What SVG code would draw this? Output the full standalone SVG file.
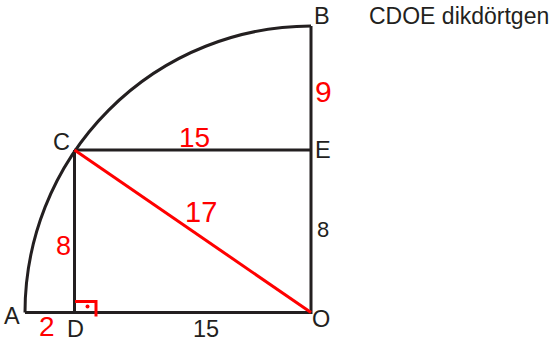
<svg xmlns="http://www.w3.org/2000/svg" width="556" height="343" viewBox="0 0 556 343">
<style>
.blk{fill:none;stroke:#231f20;stroke-width:3;stroke-linecap:butt;stroke-linejoin:miter}
.red{fill:none;stroke:#ff0000;stroke-width:3}
.lbl{font-family:"Liberation Sans",Arial,sans-serif;font-size:23.5px;fill:#231f20}
.num{font-family:"Liberation Sans",Arial,sans-serif;font-size:28px;fill:#ff0000}
</style>
<rect width="556" height="343" fill="#ffffff"/>
<g id="connectors">
<path class="blk" d="M25,312.5 A286.5,286.5 0 0 1 311,26"/>
<path class="blk" d="M25,312.5 H311 V26"/>
<path class="blk" d="M74.5,150 H311"/>
<path class="blk" d="M74.5,150 V312.5"/>
<path class="red" d="M74.5,150 L311,312.5"/>
<path class="red" d="M75,301.5 H96 V316.5"/>
<circle cx="87.5" cy="306.5" r="2" fill="#ff0000"/>
</g>
<g id="A"><text class="lbl" x="4" y="324">A</text></g>
<g id="B"><text class="lbl" x="314" y="24">B</text></g>
<g id="C"><text class="lbl" x="53" y="150">C</text></g>
<g id="D"><text class="lbl" x="67" y="337">D</text></g>
<g id="E"><text class="lbl" x="315" y="158">E</text></g>
<g id="O"><text class="lbl" x="312" y="327">O</text></g>
<g id="title"><text class="lbl" x="369" y="24" style="font-size:23px">CDOE dikdörtgen</text></g>
<g id="labels">
<text class="lbl" x="193" y="337">15</text>
<text class="lbl" x="317" y="237" style="font-size:22px">8</text>
<text class="num" x="179" y="147">15</text>
<text class="num" x="185" y="222" style="font-size:29px">17</text>
<text class="num" x="315" y="102" style="font-size:30px">9</text>
<text class="num" x="56" y="255" style="font-size:27px">8</text>
<text class="num" x="39" y="336">2</text>
</g>
</svg>
